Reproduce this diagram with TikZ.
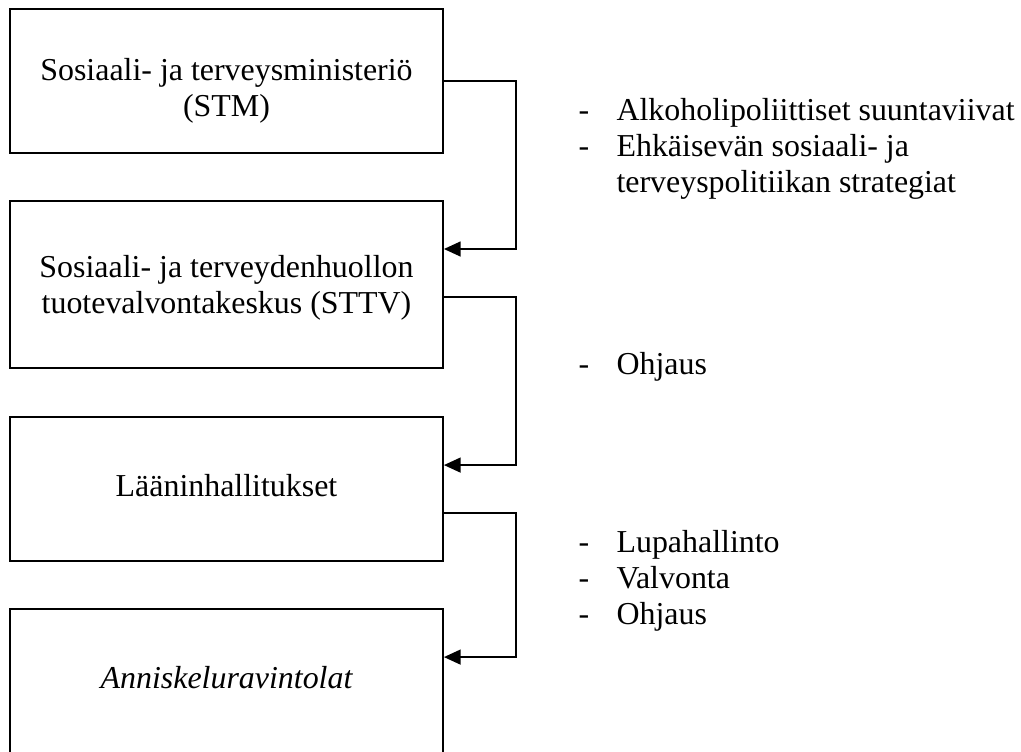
\documentclass[tikz,border=0pt]{standalone}
\usepackage{fontspec}
\setmainfont{Liberation Serif}
\usetikzlibrary{arrows.meta}

\begin{document}
\begin{tikzpicture}[
  x=0.376pt, y=-0.376pt,
  box/.style={draw, line width=0.7pt, minimum width=162.8pt, minimum height=54.1pt,
              align=center, inner sep=0pt, font=\fontsize{12}{13.5}\selectfont},
  arr/.style={-{Triangle[length=6.3pt, width=5.6pt]}, line width=0.7pt},
  lista/.style={anchor=base west, align=left, inner sep=0pt,
                font=\fontsize{12}{13.4}\selectfont}
]
  \useasboundingbox (0,0) rectangle (1021,751);

  \node[box] (stm) at (226.5,81)
    {\rule{0pt}{16pt}Sosiaali- ja terveysministeriö\\(STM)};
  \node[box, minimum height=62.8pt] (sttv) at (226.5,284.5)
    {\rule{0pt}{10.5pt}Sosiaali- ja terveydenhuollon\\tuotevalvontakeskus (STTV)};
  \node[box, text depth=3pt] (laani) at (226.5,489) {Lääninhallitukset};
  \node[box, text depth=3pt] (ravintolat) at (226.5,681) {\itshape Anniskeluravintolat};

  \draw[arr] (stm.east) -- ++(72,0) |- ([yshift=13.35pt]sttv.east);
  \draw[arr] ([yshift=-4.7pt]sttv.east) -- ++(72,0) |- ([yshift=9pt]laani.east);
  \draw[arr] ([yshift=-9pt]laani.east) -- ++(72,0) |- ([yshift=9pt]ravintolat.east);

  % lists: base anchor sits on the last line
  \node[lista] (linjaukset) at (578,192)
    {\makebox[14.3pt][l]{-}Alkoholipoliittiset suuntaviivat\\
     \makebox[14.3pt][l]{-}Ehkäisevän sosiaali- ja\\
     \hspace*{14.3pt}terveyspolitiikan strategiat};
  \node[lista] (ohjaus) at (578,374) {\makebox[14.3pt][l]{-}Ohjaus};
  \node[lista] (tehtavat) at (578,624)
    {\makebox[14.3pt][l]{-}Lupahallinto\\
     \makebox[14.3pt][l]{-}Valvonta\\
     \makebox[14.3pt][l]{-}Ohjaus};
\end{tikzpicture}
\end{document}
